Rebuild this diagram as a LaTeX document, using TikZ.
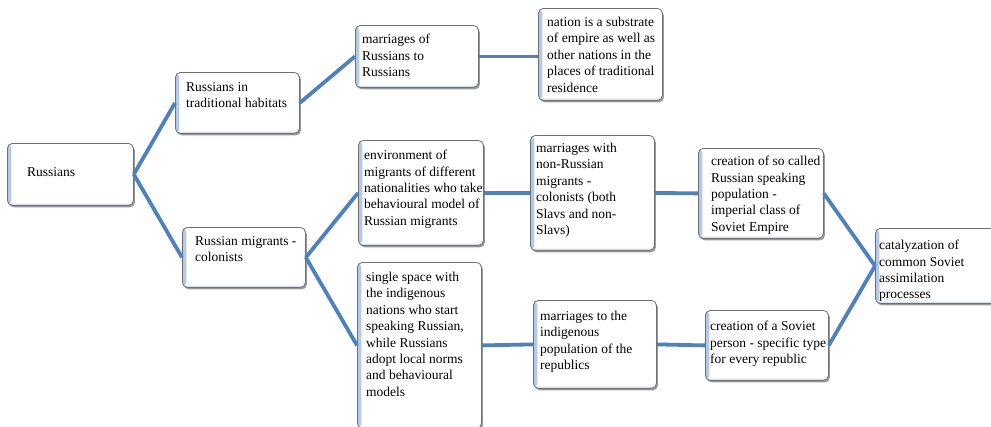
\documentclass[tikz,border=0pt]{standalone}
\usepackage{fontspec}
\setmainfont{Liberation Serif}
\usetikzlibrary{shadows}
\definecolor{linkblue}{HTML}{4F81BD}
\definecolor{edgeblue}{HTML}{B3C8E6}
\definecolor{boxgray}{HTML}{707070}
\begin{document}
\begin{tikzpicture}[x=1pt,y=-1pt,
  box/.style={draw=boxgray, line width=0.8pt, rounded corners=5pt, fill=white,
    drop shadow={shadow xshift=1.5pt, shadow yshift=-2pt, opacity=0.4, fill=black},
    inner sep=0pt, anchor=north west,
    path picture={
      \shade[left color=edgeblue, right color=white]
        (path picture bounding box.south west) rectangle ([xshift=4pt]path picture bounding box.north west);
      \shade[bottom color=edgeblue, top color=white]
        (path picture bounding box.south west) rectangle ([yshift=3pt]path picture bounding box.south east);
    }},
  txt/.style={anchor=north west, inner sep=0pt, align=left,
    font=\fontsize{13.5}{16.4}\selectfont},
  link/.style={draw=linkblue, line width=3.8pt}
]
\useasboundingbox (0,0) rectangle (991,426);

% boxes
\node[box, minimum width=126pt, minimum height=62pt] (rus) at (7,143) {};
\node[box, minimum width=124pt, minimum height=61pt] (trad) at (175,72) {};
\node[box, minimum width=123pt, minimum height=60pt] (mig) at (182,227) {};
\node[box, minimum width=123pt, minimum height=62pt] (mar) at (355,25) {};
\node[box, minimum width=124pt, minimum height=92pt] (nat) at (538,8) {};
\node[box, minimum width=125pt, minimum height=105pt] (env) at (358,140) {};
\node[box, minimum width=124pt, minimum height=115pt] (nonr) at (530,135) {};
\node[box, minimum width=124pt, minimum height=166pt] (single) at (357,262) {};
\node[box, minimum width=123pt, minimum height=88pt] (indig) at (533,300) {};
\node[box, minimum width=125pt, minimum height=90pt] (socl) at (698,148) {};
\node[box, minimum width=123pt, minimum height=70pt] (pers) at (705,310) {};
\node[box, minimum width=122pt, minimum height=75pt] (cat) at (875,228) {};

% texts
\node[txt] (trus) at (27,167) {Russians};
\node[txt] (ttrad) at (186,82) {Russians in\\traditional habitats};
\node[txt] (tmig) at (195,236) {Russian migrants -\\colonists};
\node[txt] (tmar) at (362,34) {marriages of\\Russians to\\Russians};
\node[txt] (tnat) at (547,17) {nation is a substrate\\of empire as well as\\other nations in the\\places of traditional\\residence};
\node[txt] (tenv) at (364,150) {environment of\\migrants of different\\nationalities who take\\behavioural model of\\Russian migrants};
\node[txt] (tnonr) at (536,143) {marriages with\\non-Russian\\migrants -\\colonists (both\\Slavs and non-\\Slavs)};
\node[txt] (tsingle) at (366,272) {single space with\\the indigenous\\nations who start\\speaking Russian,\\while Russians\\adopt local norms\\and behavioural\\models};
\node[txt] (tindig) at (540,311) {marriages to the\\indigenous\\population of the\\republics};
\node[txt] (tsocl) at (711,156) {creation of so called\\Russian speaking\\population -\\imperial class of\\Soviet Empire};
\node[txt] (tpers) at (710,321) {creation of a Soviet\\person - specific type\\for every republic};
\node[txt] (tcat) at (879,240) {catalyzation of\\common Soviet\\assimilation\\processes};

% connectors
\draw[link] (rus.east) -- (trad.west);
\draw[link] (rus.east) -- (mig.west);
\draw[link] (trad.east) -- (mar.west);
\draw[link] (mar.east) -- (mar.east -| nat.west);
\draw[link] (mig.east) -- (env.west);
\draw[link] (mig.east) -- (single.west);
\draw[link] (env.east) -- (nonr.west);
\draw[link] (nonr.east) -- (socl.west);
\draw[link] (single.east) -- (indig.west);
\draw[link] (indig.east) -- (pers.west);
\draw[link] (socl.east) -- (cat.west);
\draw[link] (pers.east) -- (cat.west);
\end{tikzpicture}
\end{document}
